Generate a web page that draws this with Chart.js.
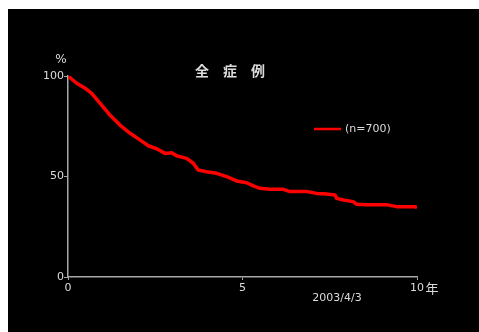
<!DOCTYPE html>
<html>
<head>
<meta charset="utf-8">
<script src="https://cdn.jsdelivr.net/npm/chart.js@4.4.1/dist/chart.umd.min.js"></script>
<style>
  html, body { margin: 0; padding: 0; background: #fff; }
  #wrap { position: absolute; left: 8px; top: 9px; width: 471px; height: 323px; background: #000; }
</style>
</head>
<body>
<div id="wrap"><canvas id="km"></canvas></div>
<script>
// survival curve (years, %)
const years = [0, 0.25, 0.49, 0.68, 0.92, 1.2, 1.49, 1.78, 2.06, 2.3, 2.54, 2.78, 2.97, 3.11, 3.4,
  3.59, 3.73, 3.97, 4.26, 4.55, 4.83, 5.12, 5.31, 5.5, 5.79, 6.17, 6.36, 6.84, 7.13, 7.41, 7.65,
  7.7, 7.89, 8.17, 8.27, 8.56, 8.75, 9.13, 9.41, 9.94, 10];
const survival = [100, 96.4, 93.9, 91.4, 86.4, 80.6, 75.6, 71.5, 68.2, 65.3, 63.8, 61.5, 61.8, 60.3, 59.0,
  56.6, 53.2, 52.4, 51.6, 49.9, 47.8, 46.9, 45.3, 44.1, 43.6, 43.6, 42.5, 42.5, 41.6, 41.3, 40.8,
  39.1, 38.3, 37.5, 36.2, 36.0, 36.0, 36.0, 35.0, 35.0, 34.5];
const xTicks = [0, 5, 10];
const yTicks = [0, 50, 100];
const seriesLabel = '(n=700)';
const titleText = '全　症　例';
const dateText = '2003/4/3';

const axisGrey = '#a8a8a8';
const textGrey = '#dcdcdc';

// extra texts + legend drawn on top
const extras = {
  id: 'extras',
  afterDraw(chart) {
    const c = chart.ctx;
    c.save();
    c.fillStyle = textGrey;
    c.textAlign = 'center';
    c.textBaseline = 'middle';
    c.font = 'bold 14px "Noto Sans CJK JP"';
    c.fillText(titleText, 222, 62);
    c.font = '12px "DejaVu Sans"';
    c.fillText('%', 53, 51);
    c.font = '13px "Noto Sans CJK JP"';
    c.fillText('年', 424, 279);
    c.font = '11px "DejaVu Sans"';
    c.fillText(dateText, 329, 289);

    const ds = chart.data.datasets[0];
    c.strokeStyle = ds.borderColor;
    c.lineWidth = 2.5;
    c.beginPath();
    c.moveTo(306, 120);
    c.lineTo(333, 120);
    c.stroke();
    c.textAlign = 'left';
    c.fillText(ds.label, 337, 120.5);
    c.restore();
  }
};

new Chart(document.getElementById('km'), {
  type: 'line',
  data: {
    datasets: [{
      label: seriesLabel,
      data: years.map((t, i) => ({ x: t, y: survival[i] })),
      borderColor: '#ff0000',
      borderWidth: 3.5,
      borderJoinStyle: 'round',
      pointRadius: 0,
      tension: 0,
      fill: false
    }]
  },
  options: {
    responsive: true,
    maintainAspectRatio: false,
    animation: false,
    layout: { padding: { left: 0, top: 67, right: 62, bottom: 0 } },
    plugins: {
      legend: { display: false },
      title: { display: false },
      tooltip: { enabled: false }
    },
    scales: {
      x: {
        type: 'linear',
        min: 0, max: 10,
        afterFit: (s) => { s.height = 55; },
        afterBuildTicks: (s) => { s.ticks = xTicks.map(v => ({ value: v })); },
        border: { color: axisGrey, width: 1.5 },
        grid: { drawOnChartArea: false, color: axisGrey, tickLength: 3 },
        ticks: { color: textGrey, padding: 2, font: { family: 'DejaVu Sans', size: 11 }, maxRotation: 0 }
      },
      y: {
        min: 0, max: 100,
        afterFit: (s) => { s.width = 60; },
        afterBuildTicks: (s) => { s.ticks = yTicks.map(v => ({ value: v })); },
        border: { color: axisGrey, width: 1.5 },
        grid: { drawOnChartArea: false, color: axisGrey, tickLength: 4 },
        ticks: { color: textGrey, padding: 0, font: { family: 'DejaVu Sans', size: 11 } }
      }
    }
  },
  plugins: [extras]
});
</script>
</body>
</html>
